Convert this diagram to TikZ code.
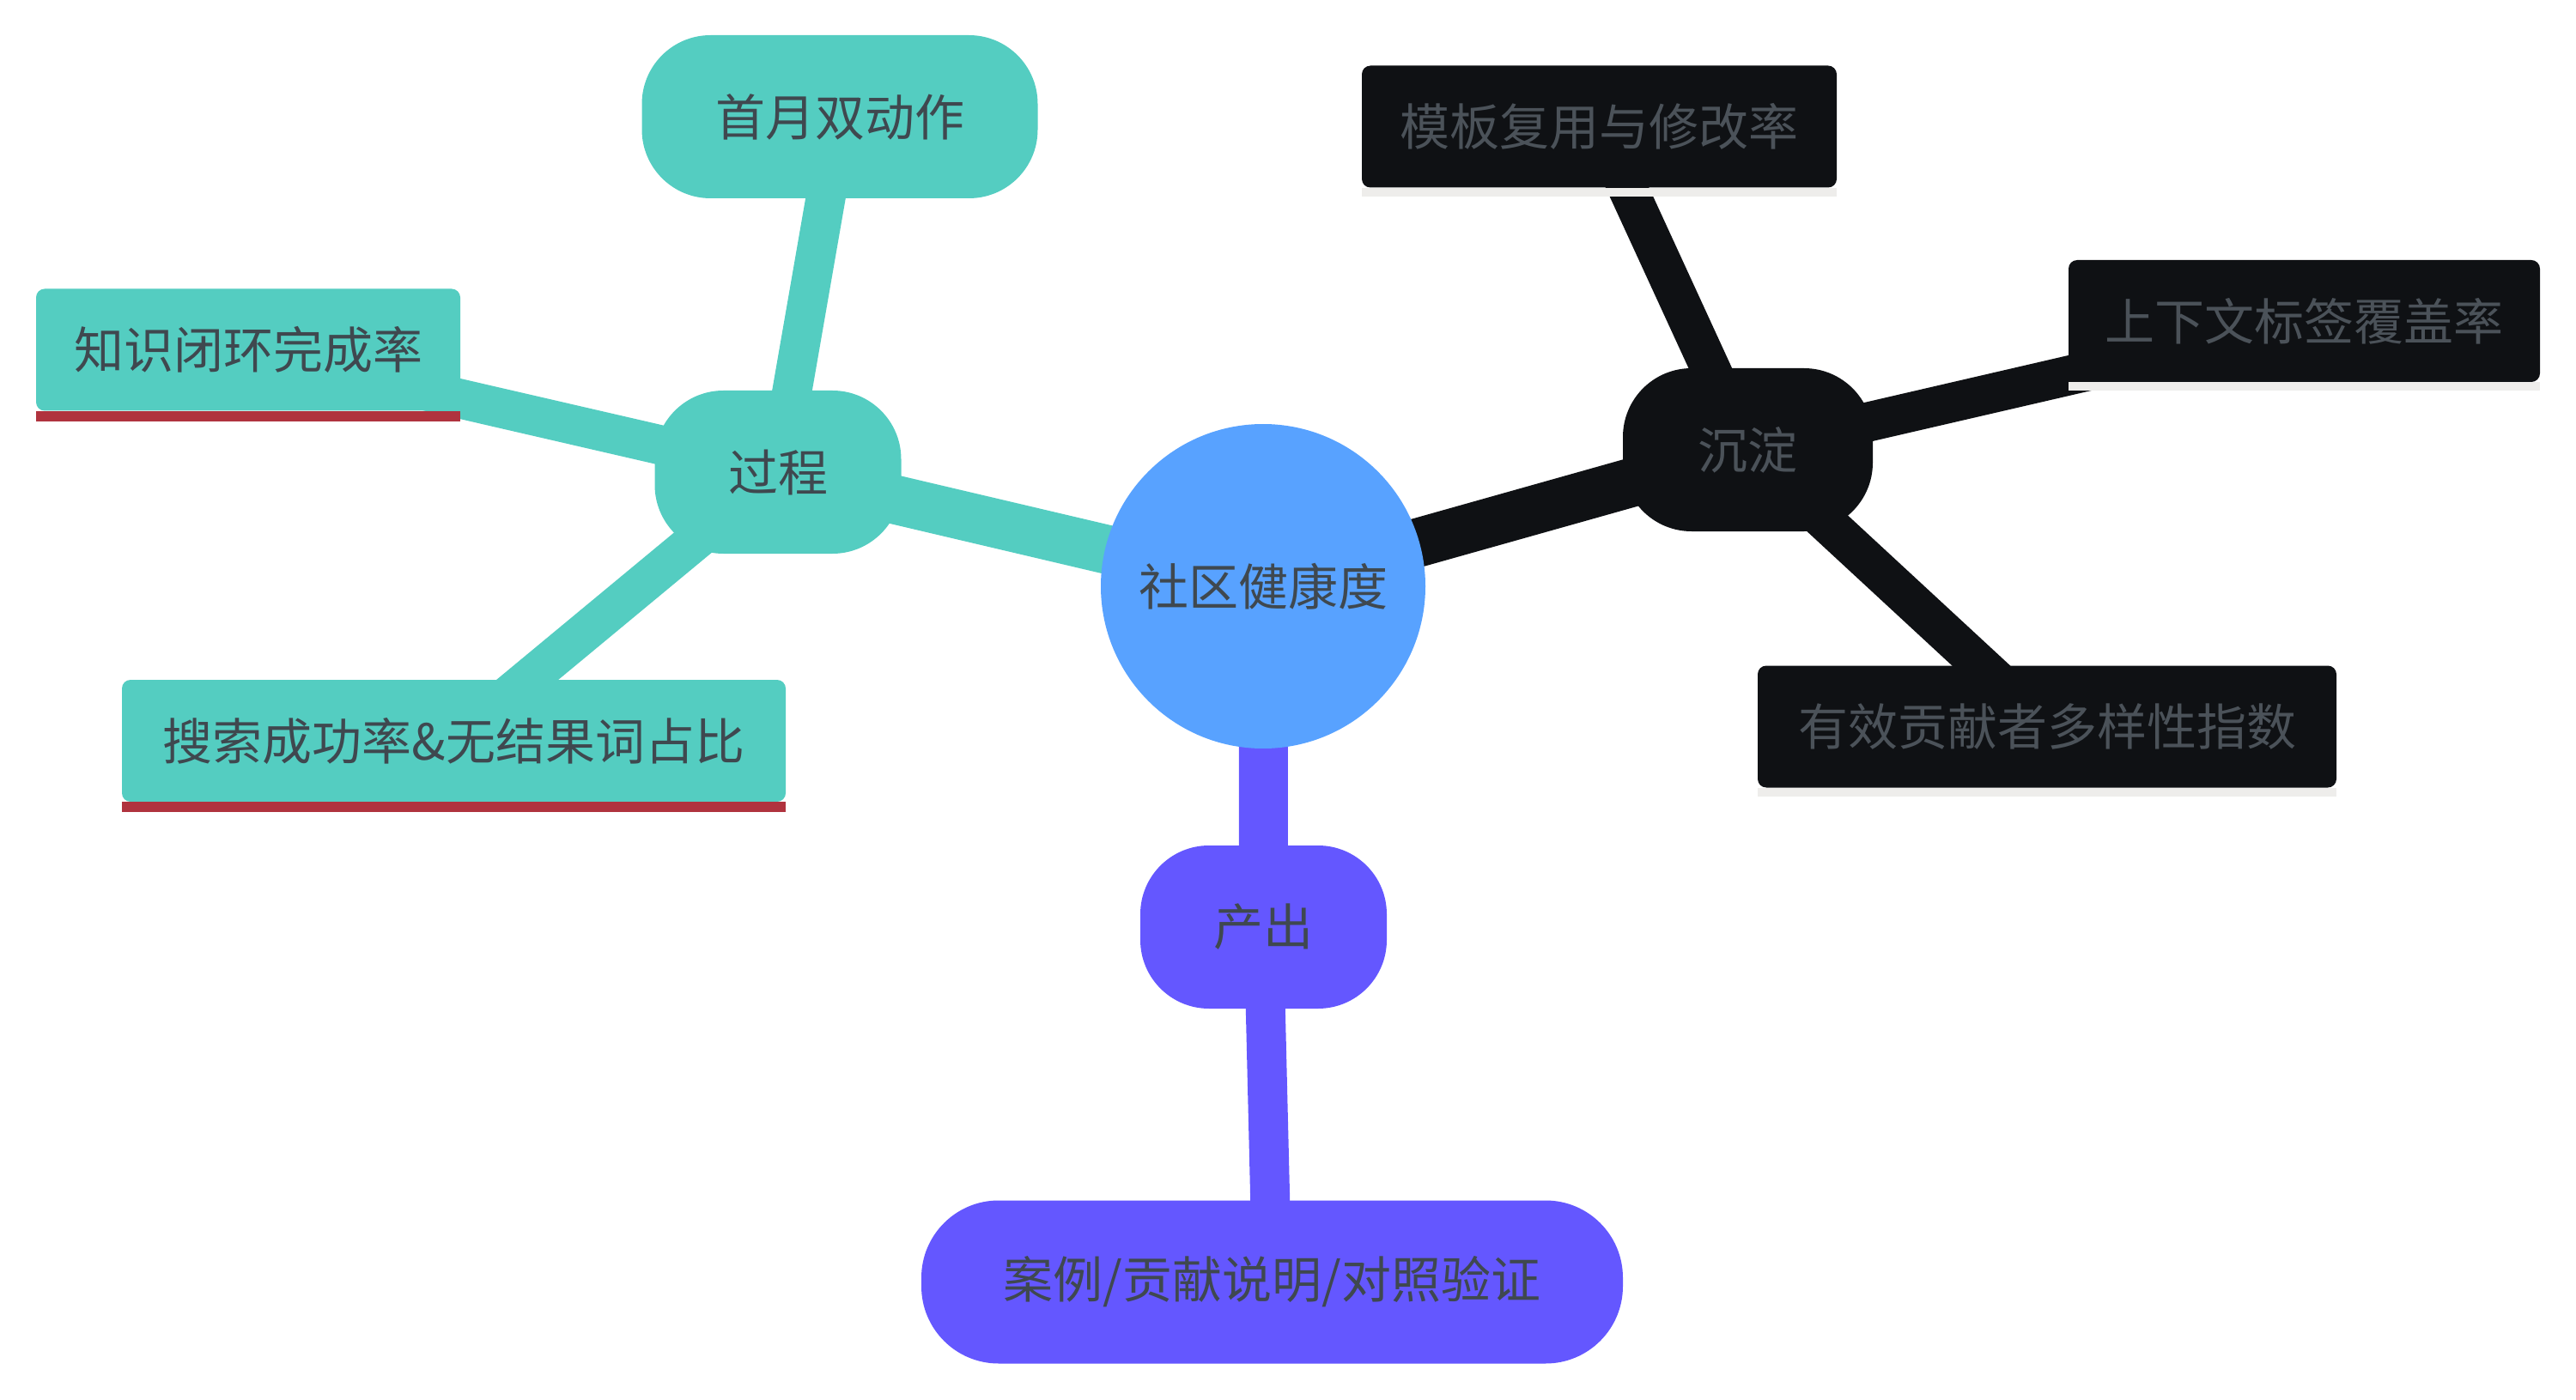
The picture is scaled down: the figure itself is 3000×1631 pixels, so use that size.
\documentclass[tikz,border=0pt]{standalone}
\usepackage{fontspec}
\setmainfont{Noto Sans CJK SC}
\usetikzlibrary{backgrounds}
\definecolor{tealc}{HTML}{54CDC1}
\definecolor{bluec}{HTML}{58A2FF}
\definecolor{purplec}{HTML}{6457FF}
\definecolor{blackc}{HTML}{0F1114}
\definecolor{txtc}{HTML}{3F484F}
\definecolor{txtdark}{HTML}{4B5259}
\definecolor{redbar}{HTML}{B0333E}
\definecolor{greybar}{HTML}{EEEDEB}
\begin{document}
\begin{tikzpicture}[x=0.5pt,y=-0.5pt,line join=round,
	every node/.style={font=\fontsize{29pt}{34pt}\selectfont,text=txtc,inner sep=0pt},
	branch/.style={rounded corners=40pt,minimum width=#1,minimum height=95pt},
	leaf/.style={rounded corners=5pt,minimum width=#1,minimum height=71pt},
	edgeone/.style={line width=28.5pt},
	edgetwo/.style={line width=23pt}]
	\useasboundingbox (0,0) rectangle (3000,1631);
	% centre
	\node[circle,fill=bluec,minimum size=189pt] (root) at (1471,683) {社区健康度};
	% process branch
	\node[branch=143.5pt,fill=tealc] (guo) at (906,550) {过程};
	\node[branch=230.5pt,fill=tealc] (shou) at (978,136) {首月双动作};
	\node[leaf=247pt,fill=tealc] (zhi) at (289,407.5) {知识闭环完成率};
	\node[leaf=386.5pt,fill=tealc] (sou) at (528.5,863) {搜索成功率\&无结果词占比};
	% settling branch
	\node[branch=145.5pt,fill=blackc,text=txtdark] (chen) at (2035.5,524) {沉淀};
	\node[leaf=276.5pt,fill=blackc,text=txtdark] (mu) at (1862.5,147.5) {模板复用与修改率};
	\node[leaf=274.5pt,fill=blackc,text=txtdark] (shang) at (2683.5,374) {上下文标签覆盖率};
	\node[leaf=337pt,fill=blackc,text=txtdark] (you) at (2384,846.5) {有效贡献者多样性指数};
	% output branch
	\node[branch=143.5pt,fill=purplec] (chan) at (1471.5,1080) {产出};
	\node[branch=408.5pt,fill=purplec,rounded corners=45pt] (an) at (1481.5,1493.5) {案例/贡献说明/对照验证};
	% underlines
	\foreach \n in {zhi,sou}
	\fill[redbar] (\n.south west) rectangle ([yshift=-6pt]\n.south east);
	\foreach \n in {mu,shang,you}
	\fill[greybar] (\n.south west) rectangle ([yshift=-5pt]\n.south east);
	\begin{scope}[on background layer]
	\draw[edgeone,tealc] (root.center)--(guo.center);
	\draw[edgeone,blackc] (root.center)--(chen.center);
	\draw[edgeone,purplec] (root.center)--(chan.center);
	\foreach \n in {shou,zhi,sou}
	\draw[edgetwo,tealc] (guo.center)--(\n.center);
	\foreach \n in {mu,shang,you}
	\draw[edgetwo,blackc] (chen.center)--(\n.center);
	\draw[edgetwo,purplec] (chan.center)--(an.center);
	\end{scope}
\end{tikzpicture}
\end{document}
